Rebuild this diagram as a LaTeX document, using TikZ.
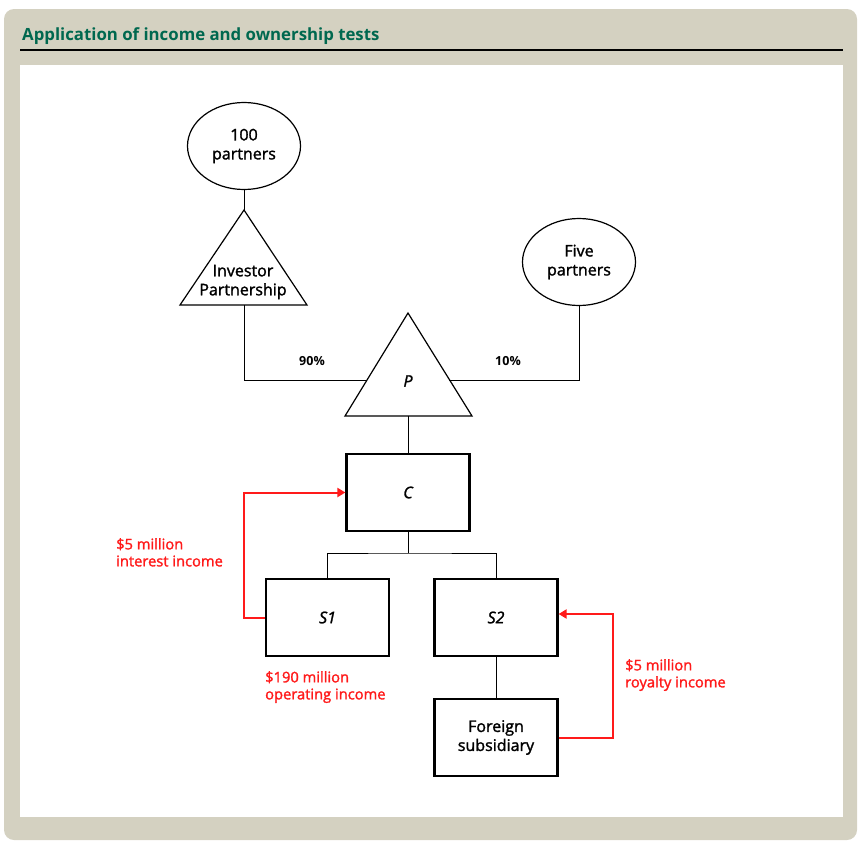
\documentclass[tikz,border=0pt]{standalone}
\usepackage{fontspec}
\setmainfont{Open Sans}
\newfontfamily\mediumfont[FakeBold=1.6]{Open Sans}
\usetikzlibrary{shapes.geometric,arrows.meta}

\definecolor{panelgrey}{HTML}{D4D1C1}
\definecolor{titlegreen}{HTML}{00684F}
\definecolor{flowred}{HTML}{FF1A1A}

\tikzset{
  entity/.style={draw,line width=2.2pt,minimum width=123pt,minimum height=77pt,align=center,font=\mediumfont\fontsize{16}{19}\selectfont},
  partners/.style={draw,ellipse,line width=1.2pt,minimum width=113pt,minimum height=87pt,inner sep=0pt,align=center,font=\mediumfont\fontsize{16}{19}\selectfont},
  tri/.style={line width=1.2pt,line join=miter},
  tritext/.style={align=center,inner sep=0pt,font=\mediumfont\fontsize{16}{19}\selectfont},
  link/.style={line width=1pt},
  flow/.style={draw=flowred,line width=2pt,-{Triangle[length=8pt,width=9pt]}},
  flowlabel/.style={text=flowred,align=left,anchor=north west,inner sep=0pt,font=\mediumfont\fontsize{14.7}{17}\selectfont},
  share/.style={font=\bfseries\fontsize{12.5}{14}\selectfont}
}

\begin{document}
\begin{tikzpicture}[x=1pt,y=-1pt]
	\useasboundingbox (0,0) rectangle (862,865);
	\fill[panelgrey,rounded corners=10pt] (4,9) rectangle (857,840);
	\fill[white] (20,65) rectangle (843,817);
	\node[anchor=base west,inner sep=0pt,text=titlegreen,font=\bfseries\fontsize{16.8}{20}\selectfont] (title) at (22,40) {Application of income and ownership tests};
	\draw[line width=2pt] (20,50) -- (843,50);

	% owners
	\node[partners] (hundred) at (244,146) {100\\partners};
	\node[partners] (five) at (579,262) {Five\\partners};

	% partnerships
	\coordinate (ipTop) at (244,210);
	\coordinate (ipBase) at (244,305);
	\draw[tri] (ipTop) -- (307,305) -- (180,305) -- cycle;
	\node[tritext] (ip) at (243,282) {Investor\\Partnership};
	\coordinate (pTop) at (408,313);
	\coordinate (pBase) at (408,416);
	\coordinate (pLeft) at (367,380);
	\coordinate (pRight) at (449,380);
	\draw[tri] (pTop) -- (472,416) -- (345,416) -- cycle;
	\node[tritext] (p) at (408,381) {\itshape P};

	% corporations
	\node[entity] (c) at (408,492.5) {\itshape C};
	\node[entity] (s1) at (327.5,617.5) {\itshape S1};
	\node[entity] (s2) at (496,617.5) {\itshape S2};
	\node[entity] (fs) at (496,737.5) {Foreign\\subsidiary};

	% ownership
	\coordinate (fork) at (408,553);
	\draw[link] (hundred.south) -- (ipTop);
	\draw[link] (ipBase) |- (pLeft);
	\draw[link] (five.south) |- (pRight);
	\draw[link] (pBase) -- (c.north);
	\draw[link] (c.south) -- (fork);
	\draw[link] (s1.north) |- (fork) -| (s2.north);
	\draw[link] (s2.south) -- (fs.north);
	\node[share] (ninety) at (312,361) {90\%};
	\node[share] (ten) at (508,361) {10\%};

	% income flows
	\draw[flow] (s1.west) -- ++(-21,0) |- (c.west);
	\draw[flow] (fs.east) -- ++(54,0) |- ([yshift=3.5pt]s2.east);
	\node[flowlabel] (interest) at (116,538) {\$5 million\\interest income};
	\node[flowlabel] (operating) at (265,671) {\$190 million\\operating income};
	\node[flowlabel] (royalty) at (625,659) {\$5 million\\royalty income};
\end{tikzpicture}
\end{document}
